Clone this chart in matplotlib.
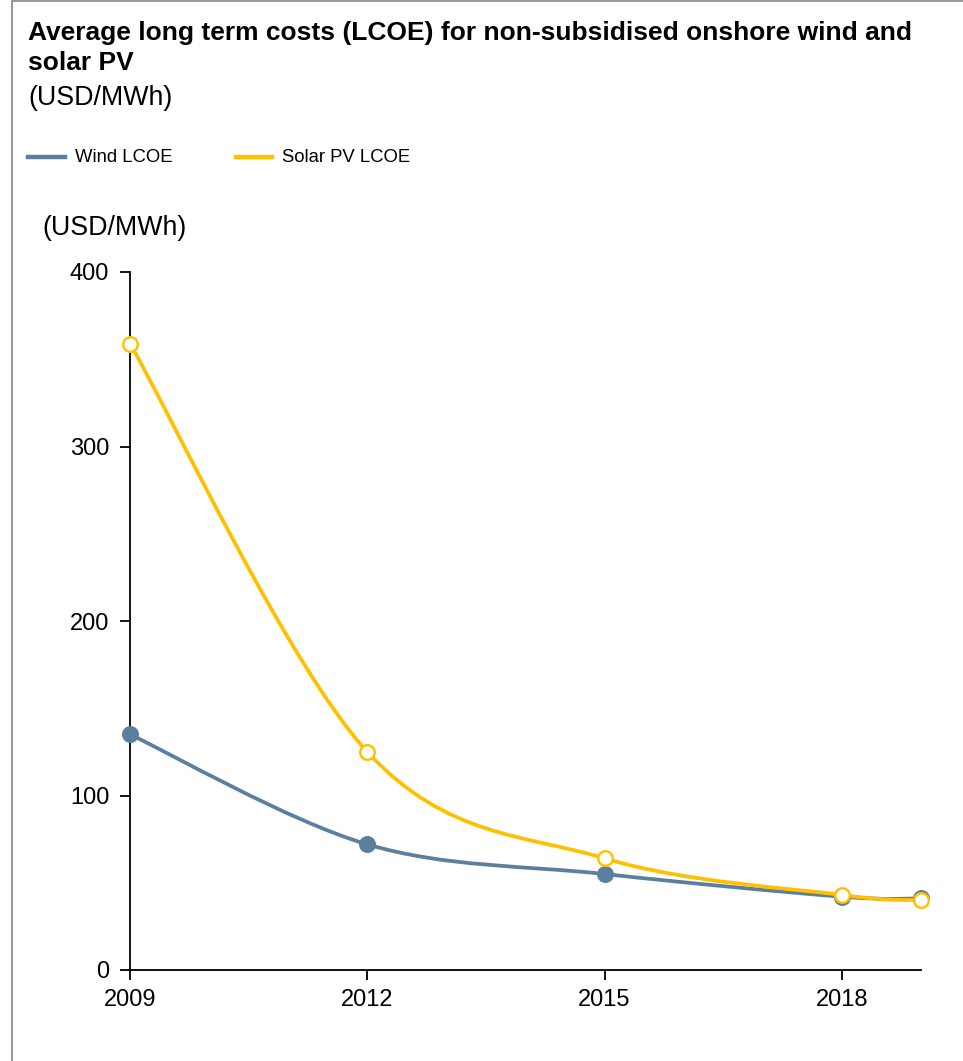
import matplotlib
matplotlib.use("Agg")
import matplotlib.pyplot as plt
from matplotlib.path import Path
from matplotlib.patches import PathPatch
from matplotlib.lines import Line2D

plt.rcParams["font.family"] = ["Liberation Sans", "DejaVu Sans"]

years = [2009, 2012, 2015, 2018, 2019]
wind_lcoe = [135, 72, 55, 42, 41]
solar_lcoe = [359, 125, 64, 43, 40]
year_ticks = [2009, 2012, 2015, 2018]
value_ticks = [0, 100, 200, 300, 400]
series_names = ["Wind LCOE", "Solar PV LCOE"]

WIND = "#5A7F9F"
SOLAR = "#FFC000"
W, H = 963, 1061


def smooth_path(xs, ys):
    # Excel-style smoothed line: cubic Bezier through each point
    pts = list(zip(xs, ys))
    n = len(pts)
    verts = [pts[0]]
    codes = [Path.MOVETO]
    for i in range(n - 1):
        p0 = pts[max(i - 1, 0)]
        p1 = pts[i]
        p2 = pts[i + 1]
        p3 = pts[min(i + 2, n - 1)]
        c1 = (p1[0] + (p2[0] - p0[0]) / 6, p1[1] + (p2[1] - p0[1]) / 6)
        c2 = (p2[0] - (p3[0] - p1[0]) / 6, p2[1] - (p3[1] - p1[1]) / 6)
        verts += [c1, c2, p2]
        codes += [Path.CURVE4] * 3
    return Path(verts, codes)


fig = plt.figure(figsize=(W / 100, H / 100), dpi=100)
ax = fig.add_axes([130 / W, 1 - 970 / H, (921 - 130) / W, (970 - 272) / H])

for ys, color, face in [(wind_lcoe, WIND, WIND), (solar_lcoe, SOLAR, "white")]:
    ax.add_patch(PathPatch(smooth_path(years, ys), fill=False, edgecolor=color,
                           linewidth=2.7, capstyle="round", zorder=2, clip_on=False))
    ax.plot(years, ys, linestyle="none", marker="o", markersize=10.5,
            markerfacecolor=face, markeredgecolor=color, markeredgewidth=1.7,
            zorder=3, clip_on=False)

ax.set_xlim(2009, 2019)
ax.set_ylim(0, 400)
ax.set_xticks(year_ticks)
ax.set_yticks(value_ticks)
ax.tick_params(labelsize=17, length=7, width=1.3, color="black")
ax.tick_params(axis="y", pad=8)
ax.tick_params(axis="x", pad=7)
for side in ["top", "right"]:
    ax.spines[side].set_visible(False)
for side in ["left", "bottom"]:
    ax.spines[side].set_linewidth(1.3)

fig.text(28 / W, 1 - 33 / H, "Average long term costs (LCOE) for non-subsidised onshore wind and",
         fontsize=19, fontweight="bold", va="center", ha="left")
fig.text(28 / W, 1 - 63 / H, "solar PV", fontsize=19, fontweight="bold", va="center", ha="left")
fig.text(28 / W, 1 - 98 / H, "(USD/MWh)", fontsize=19.3, va="center", ha="left")
fig.text(42 / W, 1 - 228 / H, "(USD/MWh)", fontsize=19.3, va="center", ha="left")

# legend drawn by hand
for (x0, x1, tx), color, name in zip([(28, 65, 75), (236, 272, 282)], [WIND, SOLAR], series_names):
    fig.add_artist(Line2D([x0 / W, x1 / W], [1 - 157 / H] * 2, color=color, linewidth=3.2))
    fig.text(tx / W, 1 - 157 / H, name, fontsize=13.3, va="center", ha="left")

# grey frame at left and top
fig.add_artist(Line2D([12 / W, 12 / W], [0, 1], color="#9a9a9a", linewidth=1.5))
fig.add_artist(Line2D([12 / W, 1], [1 - 1 / H, 1 - 1 / H], color="#9a9a9a", linewidth=1.5))

fig.savefig("out.png", dpi=100, facecolor="white")
